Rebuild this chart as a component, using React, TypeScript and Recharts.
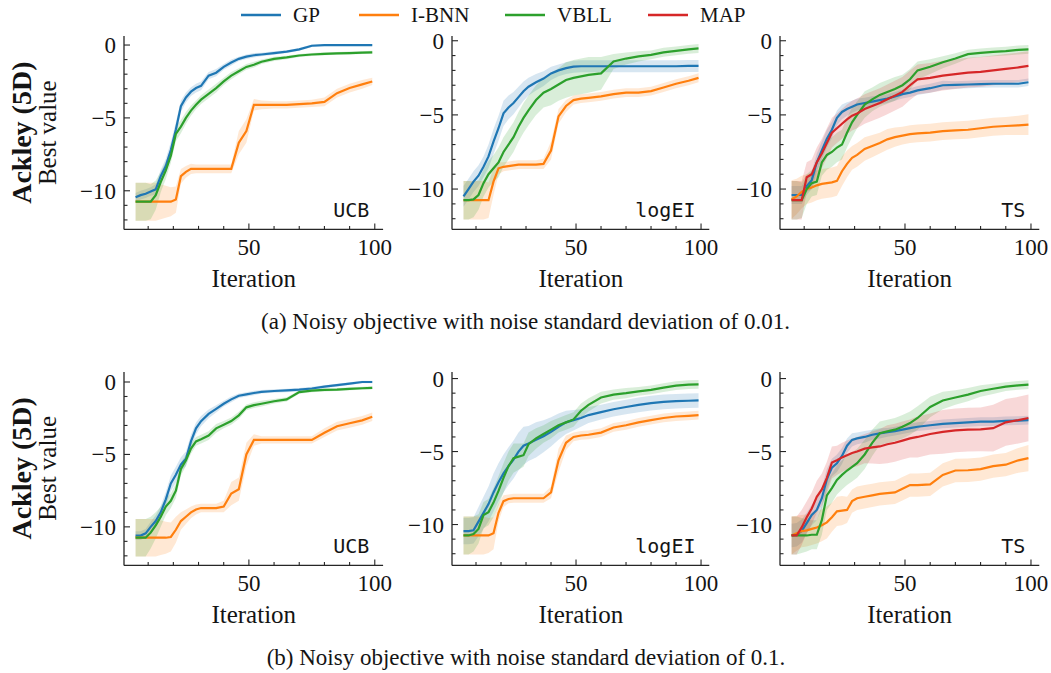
import React from 'react';
import { ComposedChart, Line, Area, XAxis, YAxis } from 'recharts';

const ITER = [5, 7, 9, 11, 13, 15, 17, 19, 21, 23, 25, 27, 29, 31, 34, 37, 40, 43, 46, 49, 52, 55, 60, 65, 70, 75, 80, 85, 90, 95, 99];

const X_TICKS = [10, 20, 30, 40, 50, 60, 70, 80, 90, 100];
const Y_TICKS = [-12, -11, -10, -9, -8, -7, -6, -5, -4, -3, -2, -1, 0];
const X_DOMAIN: [number, number] = [0.4, 103.3];

const METHODS = ['GP', 'I-BNN', 'VBLL', 'MAP'];
const COLORS: Record<string, string> = {
  GP: '#1f77b4',
  'I-BNN': '#ff7f0e',
  VBLL: '#2ca02c',
  MAP: '#d62728',
};

// (a) noise std 0.01 — UCB
const A_UCB_GP = [-10.45, -10.3, -10.2, -10.05, -9.9, -9.0, -8.3, -7.2, -5.8, -4.2, -3.6, -3.2, -2.95, -2.8, -2.1, -1.9, -1.5, -1.2, -0.95, -0.8, -0.7, -0.65, -0.55, -0.45, -0.3, -0.05, 0, 0, 0, 0, 0];
const A_UCB_GP_SD = [0.3, 0.3, 0.3, 0.3, 0.35, 0.45, 0.5, 0.55, 0.5, 0.4, 0.35, 0.3, 0.3, 0.3, 0.25, 0.25, 0.2, 0.2, 0.15, 0.15, 0.15, 0.12, 0.12, 0.1, 0.1, 0.08, 0.05, 0.05, 0.05, 0.05, 0.05];
const A_UCB_IBNN = [-10.75, -10.75, -10.75, -10.75, -10.75, -10.75, -10.75, -10.75, -10.6, -9.0, -8.7, -8.5, -8.5, -8.5, -8.5, -8.5, -8.5, -8.5, -6.7, -5.9, -4.1, -4.1, -4.1, -4.1, -4.05, -4.0, -3.9, -3.3, -2.95, -2.7, -2.5];
const A_UCB_IBNN_SD = [1.3, 1.3, 1.3, 1.3, 1.3, 1.2, 1.1, 1.0, 0.9, 0.5, 0.4, 0.35, 0.3, 0.3, 0.3, 0.3, 0.3, 0.3, 0.8, 0.8, 0.4, 0.3, 0.25, 0.25, 0.25, 0.25, 0.3, 0.3, 0.3, 0.3, 0.25];
const A_UCB_VBLL = [-10.75, -10.75, -10.75, -10.75, -10.3, -9.4, -8.6, -7.6, -6.1, -5.6, -5.0, -4.5, -4.1, -3.75, -3.35, -2.95, -2.5, -2.1, -1.8, -1.5, -1.35, -1.15, -0.95, -0.85, -0.72, -0.65, -0.6, -0.57, -0.55, -0.52, -0.5];
const A_UCB_VBLL_SD = [1.3, 1.3, 1.3, 1.2, 1.0, 0.7, 0.6, 0.5, 0.5, 0.45, 0.4, 0.35, 0.3, 0.3, 0.3, 0.3, 0.25, 0.25, 0.2, 0.2, 0.2, 0.15, 0.15, 0.12, 0.1, 0.1, 0.1, 0.1, 0.1, 0.1, 0.1];

// (a) noise std 0.01 — logEI
const A_EI_GP = [-10.5, -10.0, -9.5, -9.1, -8.5, -7.8, -6.8, -5.9, -4.9, -4.5, -4.2, -3.8, -3.4, -3.1, -2.8, -2.55, -2.2, -2.0, -1.85, -1.75, -1.72, -1.72, -1.72, -1.72, -1.72, -1.72, -1.72, -1.72, -1.72, -1.7, -1.7];
const A_EI_GP_SD = [0.7, 0.7, 0.7, 0.7, 0.7, 0.8, 0.85, 0.85, 0.85, 0.8, 0.75, 0.7, 0.65, 0.6, 0.55, 0.5, 0.45, 0.4, 0.4, 0.4, 0.4, 0.4, 0.4, 0.4, 0.4, 0.4, 0.4, 0.4, 0.4, 0.4, 0.4];
const A_EI_IBNN = [-10.75, -10.75, -10.75, -10.75, -10.75, -10.75, -9.5, -8.6, -8.5, -8.45, -8.4, -8.35, -8.35, -8.35, -8.35, -8.3, -7.4, -5.1, -4.4, -4.0, -3.9, -3.85, -3.75, -3.6, -3.5, -3.5, -3.4, -3.15, -2.9, -2.7, -2.5];
const A_EI_IBNN_SD = [1.3, 1.3, 1.3, 1.3, 1.3, 1.2, 0.9, 0.4, 0.3, 0.3, 0.3, 0.3, 0.3, 0.3, 0.3, 0.35, 0.6, 0.5, 0.4, 0.3, 0.3, 0.3, 0.3, 0.3, 0.3, 0.3, 0.3, 0.3, 0.3, 0.3, 0.3];
const A_EI_VBLL = [-10.75, -10.75, -10.7, -10.4, -9.6, -9.0, -8.6, -8.2, -7.5, -7.0, -6.5, -5.8, -5.2, -4.7, -4.0, -3.5, -3.25, -2.95, -2.65, -2.5, -2.4, -2.3, -2.2, -1.4, -1.2, -1.05, -0.95, -0.78, -0.68, -0.58, -0.52];
const A_EI_VBLL_SD = [1.3, 1.3, 1.2, 1.0, 0.9, 0.9, 0.9, 1.0, 1.0, 1.0, 1.0, 1.0, 1.0, 1.0, 1.0, 1.0, 1.1, 1.1, 1.2, 1.2, 1.2, 1.2, 1.1, 0.5, 0.4, 0.35, 0.3, 0.3, 0.3, 0.3, 0.3];

// (a) noise std 0.01 — TS
const A_TS_GP = [-10.4, -10.4, -10.4, -9.8, -9.4, -8.2, -7.4, -6.6, -6.0, -5.2, -4.8, -4.6, -4.45, -4.3, -4.2, -4.1, -4.0, -3.9, -3.75, -3.6, -3.5, -3.35, -3.2, -3.0, -2.98, -2.95, -2.92, -2.9, -2.9, -2.9, -2.8];
const A_TS_GP_SD = [0.6, 0.6, 0.6, 0.6, 0.6, 0.6, 0.6, 0.6, 0.55, 0.5, 0.5, 0.45, 0.4, 0.4, 0.35, 0.35, 0.3, 0.3, 0.3, 0.3, 0.3, 0.3, 0.3, 0.3, 0.25, 0.25, 0.25, 0.25, 0.25, 0.25, 0.25];
const A_TS_IBNN = [-10.7, -10.5, -10.2, -10.0, -9.9, -9.75, -9.65, -9.6, -9.55, -9.45, -8.8, -8.3, -7.9, -7.7, -7.3, -7.1, -6.9, -6.65, -6.5, -6.4, -6.3, -6.25, -6.2, -6.1, -6.05, -6.0, -5.9, -5.8, -5.75, -5.7, -5.65];
const A_TS_IBNN_SD = [1.3, 1.2, 1.1, 1.0, 1.0, 1.0, 1.0, 1.0, 1.0, 1.0, 1.0, 0.9, 0.8, 0.8, 0.8, 0.75, 0.7, 0.7, 0.65, 0.6, 0.6, 0.6, 0.6, 0.6, 0.6, 0.6, 0.6, 0.6, 0.6, 0.65, 0.7];
const A_TS_VBLL = [-10.75, -10.75, -10.75, -10.0, -9.6, -9.5, -8.2, -7.7, -7.5, -7.2, -7.0, -6.2, -5.5, -5.0, -4.3, -3.95, -3.65, -3.45, -3.25, -3.0, -2.6, -2.0, -1.75, -1.45, -1.2, -0.9, -0.82, -0.75, -0.7, -0.62, -0.58];
const A_TS_VBLL_SD = [1.3, 1.3, 1.2, 1.0, 0.9, 0.9, 0.9, 1.0, 1.0, 1.0, 1.0, 1.0, 1.0, 0.9, 0.9, 0.8, 0.8, 0.8, 0.8, 0.7, 0.7, 0.6, 0.5, 0.4, 0.35, 0.3, 0.3, 0.3, 0.3, 0.3, 0.3];
const A_TS_MAP = [-10.75, -10.75, -10.75, -9.2, -9.0, -8.2, -7.6, -6.9, -6.2, -5.9, -5.6, -5.3, -5.05, -4.9, -4.6, -4.4, -4.2, -3.95, -3.7, -3.45, -3.0, -2.6, -2.5, -2.35, -2.25, -2.15, -2.1, -2.0, -1.9, -1.8, -1.7];
const A_TS_MAP_SD = [1.3, 1.3, 1.3, 1.0, 1.0, 1.0, 1.0, 1.0, 1.0, 1.0, 1.0, 1.0, 1.0, 1.0, 1.0, 1.0, 1.0, 1.0, 1.0, 1.0, 1.0, 1.0, 1.0, 1.0, 1.0, 1.0, 1.0, 1.0, 1.0, 1.0, 1.0];

// (b) noise std 0.1 — UCB
const B_UCB_GP = [-10.6, -10.6, -10.45, -10.0, -9.6, -9.0, -8.1, -7.0, -6.4, -5.7, -5.3, -4.1, -3.2, -2.7, -2.2, -1.85, -1.5, -1.2, -0.95, -0.85, -0.76, -0.68, -0.62, -0.58, -0.53, -0.45, -0.32, -0.22, -0.11, 0, 0];
const B_UCB_GP_SD = [0.3, 0.3, 0.3, 0.35, 0.4, 0.45, 0.5, 0.55, 0.55, 0.5, 0.5, 0.45, 0.4, 0.35, 0.3, 0.25, 0.2, 0.2, 0.15, 0.15, 0.15, 0.12, 0.12, 0.12, 0.12, 0.12, 0.1, 0.1, 0.1, 0.08, 0.08];
const B_UCB_IBNN = [-10.75, -10.75, -10.75, -10.75, -10.75, -10.75, -10.75, -10.7, -10.2, -9.6, -9.3, -9.0, -8.8, -8.7, -8.7, -8.7, -8.6, -7.7, -7.4, -5.0, -4.0, -4.0, -4.0, -4.0, -4.0, -4.0, -3.5, -3.05, -2.85, -2.65, -2.4];
const B_UCB_IBNN_SD = [1.3, 1.3, 1.3, 1.3, 1.3, 1.2, 1.1, 1.0, 0.9, 0.6, 0.5, 0.4, 0.35, 0.3, 0.3, 0.3, 0.4, 0.8, 0.8, 0.8, 0.4, 0.25, 0.25, 0.25, 0.25, 0.25, 0.3, 0.3, 0.3, 0.3, 0.3];
const B_UCB_VBLL = [-10.75, -10.75, -10.75, -10.4, -9.9, -9.3, -8.6, -8.2, -7.5, -6.0, -5.4, -4.6, -4.1, -3.95, -3.7, -3.2, -2.95, -2.7, -2.3, -1.75, -1.6, -1.5, -1.33, -1.2, -0.7, -0.6, -0.55, -0.52, -0.47, -0.43, -0.4];
const B_UCB_VBLL_SD = [1.3, 1.3, 1.3, 1.1, 0.9, 0.7, 0.6, 0.5, 0.5, 0.45, 0.4, 0.35, 0.3, 0.3, 0.3, 0.3, 0.25, 0.25, 0.25, 0.2, 0.2, 0.2, 0.15, 0.15, 0.12, 0.1, 0.1, 0.1, 0.1, 0.1, 0.1];

// (b) noise std 0.1 — logEI
const B_EI_GP = [-10.45, -10.45, -10.4, -9.8, -9.2, -8.6, -7.8, -7.1, -6.5, -6.0, -5.55, -5.0, -4.6, -4.45, -4.2, -3.95, -3.65, -3.3, -3.0, -2.85, -2.7, -2.5, -2.3, -2.1, -1.95, -1.8, -1.68, -1.6, -1.55, -1.52, -1.5];
const B_EI_GP_SD = [0.9, 0.9, 0.9, 1.0, 1.1, 1.2, 1.3, 1.3, 1.3, 1.3, 1.3, 1.3, 1.3, 1.2, 1.2, 1.1, 1.0, 0.9, 0.8, 0.7, 0.6, 0.55, 0.5, 0.5, 0.5, 0.5, 0.5, 0.5, 0.5, 0.5, 0.5];
const B_EI_IBNN = [-10.75, -10.75, -10.75, -10.75, -10.75, -10.75, -10.6, -9.2, -8.4, -8.25, -8.2, -8.2, -8.2, -8.2, -8.2, -8.2, -7.8, -5.6, -4.4, -4.0, -3.9, -3.85, -3.7, -3.35, -3.2, -3.0, -2.85, -2.7, -2.6, -2.55, -2.5];
const B_EI_IBNN_SD = [1.3, 1.3, 1.3, 1.3, 1.3, 1.2, 1.1, 0.6, 0.4, 0.3, 0.3, 0.3, 0.3, 0.3, 0.3, 0.3, 0.4, 0.8, 0.5, 0.3, 0.3, 0.3, 0.3, 0.3, 0.3, 0.3, 0.3, 0.3, 0.3, 0.3, 0.3];
const B_EI_VBLL = [-10.75, -10.75, -10.65, -10.3, -9.35, -9.15, -8.5, -7.7, -6.8, -6.0, -5.45, -5.35, -5.25, -4.5, -4.1, -3.8, -3.5, -3.2, -3.0, -2.8, -2.2, -1.8, -1.3, -1.1, -1.0, -0.88, -0.78, -0.62, -0.48, -0.42, -0.4];
const B_EI_VBLL_SD = [1.3, 1.3, 1.2, 1.0, 0.9, 0.9, 1.0, 1.0, 1.0, 1.0, 1.0, 0.9, 0.8, 0.8, 0.7, 0.6, 0.6, 0.5, 0.5, 0.5, 0.5, 0.45, 0.4, 0.35, 0.35, 0.3, 0.3, 0.3, 0.3, 0.3, 0.3];

// (b) noise std 0.1 — TS
const B_TS_GP = [-10.75, -10.7, -10.45, -9.9, -9.35, -9.0, -8.2, -6.9, -6.1, -5.8, -5.3, -4.6, -4.2, -4.1, -4.0, -3.85, -3.75, -3.68, -3.6, -3.5, -3.4, -3.3, -3.2, -3.1, -3.05, -3.0, -2.95, -2.95, -2.9, -2.88, -2.85];
const B_TS_GP_SD = [0.8, 0.8, 0.8, 0.7, 0.7, 0.7, 0.7, 0.7, 0.6, 0.6, 0.55, 0.5, 0.45, 0.4, 0.4, 0.35, 0.35, 0.3, 0.3, 0.3, 0.3, 0.3, 0.3, 0.3, 0.3, 0.3, 0.3, 0.3, 0.3, 0.3, 0.3];
const B_TS_IBNN = [-10.75, -10.6, -10.45, -10.4, -10.3, -10.2, -10.05, -9.85, -9.5, -9.1, -9.05, -9.0, -8.4, -8.2, -8.1, -8.0, -7.9, -7.85, -7.8, -7.55, -7.3, -7.3, -7.25, -6.6, -6.3, -6.28, -6.2, -6.0, -5.9, -5.6, -5.45];
const B_TS_IBNN_SD = [1.3, 1.2, 1.1, 1.1, 1.1, 1.1, 1.1, 1.1, 1.0, 1.0, 1.0, 0.9, 0.8, 0.8, 0.8, 0.8, 0.8, 0.8, 0.8, 0.8, 0.8, 0.8, 0.8, 0.8, 0.8, 0.8, 0.8, 0.8, 0.8, 0.85, 0.9];
const B_TS_VBLL = [-10.75, -10.75, -10.75, -10.75, -10.7, -10.7, -9.7, -8.0, -7.5, -6.95, -6.6, -6.3, -6.05, -5.8, -5.2, -4.4, -3.75, -3.62, -3.5, -3.3, -3.05, -2.7, -1.95, -1.5, -1.3, -1.1, -0.85, -0.7, -0.55, -0.47, -0.41];
const B_TS_VBLL_SD = [1.3, 1.3, 1.2, 1.1, 1.0, 1.0, 1.0, 1.0, 1.0, 1.0, 1.0, 1.0, 1.0, 1.0, 1.0, 0.9, 0.8, 0.8, 0.8, 0.8, 0.8, 0.8, 0.7, 0.6, 0.5, 0.45, 0.4, 0.35, 0.3, 0.3, 0.3];
const B_TS_MAP = [-10.75, -10.75, -10.2, -9.5, -8.9, -8.1, -7.6, -6.8, -5.75, -5.6, -5.4, -5.25, -5.1, -5.0, -4.8, -4.72, -4.65, -4.5, -4.4, -4.25, -4.1, -4.0, -3.8, -3.65, -3.55, -3.5, -3.48, -3.4, -3.0, -2.85, -2.7];
const B_TS_MAP_SD = [1.3, 1.3, 1.2, 1.1, 1.1, 1.1, 1.1, 1.1, 1.1, 1.0, 1.0, 1.0, 1.0, 1.0, 1.0, 1.1, 1.2, 1.3, 1.3, 1.3, 1.3, 1.4, 1.4, 1.5, 1.5, 1.5, 1.5, 1.6, 1.6, 1.6, 1.6];

type Series = { id: string; name: string; mean: number[]; sd: number[] };
type PanelSpec = { left: number; top: number; width: number; yDomain: [number, number]; tag: string; series: Series[] };

const mk = (name: string, mean: number[], sd: number[]): Series => ({
  id: name.replace('-', '').toLowerCase(),
  name,
  mean,
  sd,
});

const ROW_A = 36;
const ROW_B = 371.7;
const PLOT_H = 193.4;

const PANELS: PanelSpec[] = [
  { left: 124.2, top: ROW_A, width: 259.1, yDomain: [-12.65, 0.62], tag: 'UCB',
    series: [mk('GP', A_UCB_GP, A_UCB_GP_SD), mk('I-BNN', A_UCB_IBNN, A_UCB_IBNN_SD), mk('VBLL', A_UCB_VBLL, A_UCB_VBLL_SD)] },
  { left: 452.2, top: ROW_A, width: 257.3, yDomain: [-12.72, 0.32], tag: 'logEI',
    series: [mk('GP', A_EI_GP, A_EI_GP_SD), mk('I-BNN', A_EI_IBNN, A_EI_IBNN_SD), mk('VBLL', A_EI_VBLL, A_EI_VBLL_SD)] },
  { left: 780, top: ROW_A, width: 259.3, yDomain: [-12.72, 0.32], tag: 'TS',
    series: [mk('GP', A_TS_GP, A_TS_GP_SD), mk('I-BNN', A_TS_IBNN, A_TS_IBNN_SD), mk('VBLL', A_TS_VBLL, A_TS_VBLL_SD), mk('MAP', A_TS_MAP, A_TS_MAP_SD)] },
  { left: 124.2, top: ROW_B, width: 259.1, yDomain: [-12.66, 0.69], tag: 'UCB',
    series: [mk('GP', B_UCB_GP, B_UCB_GP_SD), mk('I-BNN', B_UCB_IBNN, B_UCB_IBNN_SD), mk('VBLL', B_UCB_VBLL, B_UCB_VBLL_SD)] },
  { left: 452.2, top: ROW_B, width: 257.3, yDomain: [-12.8, 0.45], tag: 'logEI',
    series: [mk('GP', B_EI_GP, B_EI_GP_SD), mk('I-BNN', B_EI_IBNN, B_EI_IBNN_SD), mk('VBLL', B_EI_VBLL, B_EI_VBLL_SD)] },
  { left: 780, top: ROW_B, width: 259.3, yDomain: [-12.8, 0.45], tag: 'TS',
    series: [mk('GP', B_TS_GP, B_TS_GP_SD), mk('I-BNN', B_TS_IBNN, B_TS_IBNN_SD), mk('VBLL', B_TS_VBLL, B_TS_VBLL_SD), mk('MAP', B_TS_MAP, B_TS_MAP_SD)] },
];

const SERIF = '"Liberation Serif", "Times New Roman", serif';
const MONO = '"DejaVu Sans Mono", "Liberation Mono", monospace';
const FRAME = '#262626';
const INK = '#141414';
const PAD_L = 70;
const PAD_R = 12;
const PAD_T = 12;
const PAD_B = 40;

const fmt = (v: number) => (v < 0 ? '\u2212' + Math.abs(v) : String(v));

// ticks point inwards like matplotlib's "science" style
const leftTick = (p: any) => {
  const v = p.payload.value;
  const major = v % 5 === 0;
  return (
    <g>
      <line x1={p.x} x2={p.x + (major ? 6 : 3.5)} y1={p.y} y2={p.y} stroke={FRAME} strokeWidth={1.1} />
      {major && (
        <text x={p.x - 8} y={p.y + 8} textAnchor="end" fontFamily={SERIF} fontSize={23} fill={INK}>
          {fmt(v)}
        </text>
      )}
    </g>
  );
};
const rightTick = (p: any) => {
  const major = p.payload.value % 5 === 0;
  return <line x1={p.x} x2={p.x - (major ? 6 : 3.5)} y1={p.y} y2={p.y} stroke={FRAME} strokeWidth={1.1} />;
};
const bottomTick = (p: any) => {
  const v = p.payload.value;
  const major = v % 50 === 0;
  return (
    <g>
      <line x1={p.x} x2={p.x} y1={p.y} y2={p.y - (major ? 6 : 3.5)} stroke={FRAME} strokeWidth={1.1} />
      {major && (
        <text x={p.x} y={p.y + 26} textAnchor="middle" fontFamily={SERIF} fontSize={23} fill={INK}>
          {v}
        </text>
      )}
    </g>
  );
};
const topTick = (p: any) => {
  const major = p.payload.value % 50 === 0;
  return <line x1={p.x} x2={p.x} y1={p.y} y2={p.y + (major ? 6 : 3.5)} stroke={FRAME} strokeWidth={1.1} />;
};

const axisLine = { stroke: FRAME, strokeWidth: 1.3 };

function Panel({ p }: { p: PanelSpec }) {
  const data = ITER.map((x, i) => {
    const row: Record<string, any> = { x };
    p.series.forEach((s) => {
      row[s.id] = s.mean[i];
      row[s.id + 'Band'] = [s.mean[i] - s.sd[i], s.mean[i] + s.sd[i]];
    });
    return row;
  });
  return (
    <div style={{ position: 'absolute', left: p.left - PAD_L, top: p.top - PAD_T }}>
      <ComposedChart
        width={p.width + PAD_L + PAD_R}
        height={PLOT_H + PAD_T + PAD_B}
        data={data}
        margin={{ top: PAD_T, right: PAD_R, bottom: 0, left: 0 }}
      >
        <XAxis xAxisId="b" dataKey="x" type="number" domain={X_DOMAIN} ticks={X_TICKS} allowDataOverflow interval={0}
          height={PAD_B} tickSize={0} tickMargin={0} tickLine={false} tick={bottomTick} axisLine={axisLine} />
        <XAxis xAxisId="t" orientation="top" dataKey="x" type="number" domain={X_DOMAIN} ticks={X_TICKS} allowDataOverflow interval={0}
          height={0} tickSize={0} tickMargin={0} tickLine={false} tick={topTick} axisLine={axisLine} />
        <YAxis yAxisId="l" type="number" domain={p.yDomain} ticks={Y_TICKS} allowDataOverflow interval={0}
          width={PAD_L} tickSize={0} tickMargin={0} tickLine={false} tick={leftTick} axisLine={axisLine} />
        <YAxis yAxisId="r" orientation="right" type="number" domain={p.yDomain} ticks={Y_TICKS} allowDataOverflow interval={0}
          width={0} tickSize={0} tickMargin={0} tickLine={false} tick={rightTick} axisLine={axisLine} />
        {p.series.map((s) => (
          <Area key={s.id + 'Band'} xAxisId="b" yAxisId="l" type="linear" dataKey={s.id + 'Band'}
            stroke="none" fill={COLORS[s.name]} fillOpacity={0.18} dot={false} activeDot={false} isAnimationActive={false} />
        ))}
        {p.series.map((s) => (
          <Line key={s.id} xAxisId="b" yAxisId="l" type="linear" dataKey={s.id} stroke={COLORS[s.name]}
            strokeWidth={2.2} dot={false} activeDot={false} isAnimationActive={false} />
        ))}
      </ComposedChart>
    </div>
  );
}

const LEGEND_X = [241, 359, 505, 648];

export default function App() {
  return (
    <div style={{ position: 'absolute', left: 0, top: 0, width: 1051, height: 673, background: '#fff', overflow: 'hidden' }}>
      {PANELS.map((p, i) => (
        <Panel key={i} p={p} />
      ))}
      <svg width={1051} height={673} style={{ position: 'absolute', left: 0, top: 0, pointerEvents: 'none' }}>
        {METHODS.map((m, i) => (
          <g key={m}>
            <line x1={LEGEND_X[i]} x2={LEGEND_X[i] + 40} y1={15} y2={15} stroke={COLORS[m]} strokeWidth={2.5} />
            <text x={LEGEND_X[i] + 52} y={22} fontFamily={SERIF} fontSize={21} fill={INK}>{m}</text>
          </g>
        ))}
        {[ROW_A, ROW_B].map((top) => {
          const cy = top + PLOT_H / 2;
          return (
            <g key={top}>
              <text transform={`translate(31, ${cy}) rotate(-90)`} textAnchor="middle" fontFamily={SERIF}
                fontSize={28} fontWeight="bold" fill={INK}>Ackley (5D)</text>
              <text transform={`translate(56, ${cy}) rotate(-90)`} textAnchor="middle" fontFamily={SERIF}
                fontSize={25} fill={INK}>Best value</text>
            </g>
          );
        })}
        {PANELS.map((p, i) => (
          <g key={i}>
            <text x={p.left + p.width / 2} y={p.top + PLOT_H + 58} textAnchor="middle" fontFamily={SERIF} fontSize={25} fill={INK}>
              Iteration
            </text>
            <text x={p.left + p.width - 14} y={p.top + PLOT_H - 12.5} textAnchor="end" fontFamily={MONO} fontSize={20} fill={INK}>
              {p.tag}
            </text>
          </g>
        ))}
        <text x={525.5} y={329} textAnchor="middle" fontFamily={SERIF} fontSize={23} fill={INK}>
          (a) Noisy objective with noise standard deviation of 0.01.
        </text>
        <text x={526} y={665} textAnchor="middle" fontFamily={SERIF} fontSize={23} fill={INK}>
          (b) Noisy objective with noise standard deviation of 0.1.
        </text>
      </svg>
    </div>
  );
}
